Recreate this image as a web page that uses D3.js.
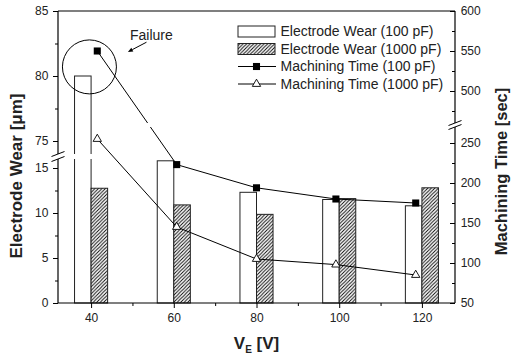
<!DOCTYPE html>
<html>
<head>
<meta charset="utf-8">
<script src="https://cdn.jsdelivr.net/npm/d3@7"></script>
<style>
  html, body { margin: 0; padding: 0; background: #fff; }
  svg { display: block; font-family: Arial, "Liberation Sans", Helvetica, sans-serif; }
</style>
</head>
<body>
<svg id="chart" width="511" height="358"></svg>
<script>
// Discharge voltage V_E [V]
const voltages = [40, 60, 80, 100, 120];
// Electrode wear [µm] per capacitance
const wear100 = [80, 15.8, 12.3, 11.5, 10.8];
const wear1000 = [12.75, 10.9, 9.85, 11.6, 12.8];
// Machining time [sec] per capacitance (plotted at these voltages)
const timeVoltages = [41.5, 60.7, 80, 99.2, 118.5];
const time100 = [550, 223, 194, 180, 175];
const time1000 = [255, 145, 105, 98, 85];
// Tick values
const xTicks = [40, 60, 80, 100, 120];
const xMinorTicks = [50, 70, 90, 110];
const wearTicksLow = [0, 5, 10, 15];
const wearTicksHigh = [75, 80, 85];
const wearMinorLow = [2.5, 7.5, 12.5];
const wearMinorHigh = [77.5, 82.5];
const timeTicksLow = [50, 100, 150, 200, 250];
const timeTicksHigh = [500, 550, 600];
const timeMinorLow = [75, 125, 175, 225];
const timeMinorHigh = [475, 525, 575];
const legendLabels = ["Electrode Wear (100 pF)", "Electrode Wear (1000 pF)",
                      "Machining Time (100 pF)", "Machining Time (1000 pF)"];
// "Failure" annotation, in data units (V, wear)
const failureCircle = [39.6, 80.7];
const failureText = [49.4, 82.8];
const failureArrowFrom = [53.4, 82.6];
const failureArrowTo = [48.9, 81.85];

const svg = d3.select("#chart");
const L = 58, R = 455, T = 11, B = 303;

// Axis with a break: two linear pieces joined at a gap
function brokenScale(lowDomain, lowRange, highDomain, highRange) {
  const lo = d3.scaleLinear().domain(lowDomain).range(lowRange);
  const hi = d3.scaleLinear().domain(highDomain).range(highRange);
  const s = v => (v >= highDomain[0] ? hi(v) : lo(v));
  s.lo = lo; s.hi = hi;
  s.gap = [highRange[0], lowRange[1]];
  return s;
}

const x = d3.scaleLinear().domain([32, 128]).range([L, R]);
const yWear = brokenScale([0, 16], [B, 159], [74, 85], [154, T]);
const yTime = brokenScale([50, 270], [B, 127], [460, 600], [123, T]);

// Hatch pattern for the 1000 pF bars
const defs = svg.append("defs");
const hatch = defs.append("pattern").attr("id", "hatch")
  .attr("patternUnits", "userSpaceOnUse").attr("width", 3.5).attr("height", 3.5);
hatch.append("rect").attr("width", 3.5).attr("height", 3.5).attr("fill", "#fff");
hatch.append("path").attr("d", "M-1,1 L1,-1 M0,3.5 L3.5,0 M2.5,4.5 L4.5,2.5")
  .attr("stroke", "#000").attr("stroke-width", 0.9);

// Clip regions that cut the marks at each axis break
function gapClip(id, gap) {
  const cp = defs.append("clipPath").attr("id", id);
  cp.append("rect").attr("x", 0).attr("y", 0).attr("width", 511).attr("height", gap[0]);
  cp.append("rect").attr("x", 0).attr("y", gap[1]).attr("width", 511).attr("height", 358 - gap[1]);
}
gapClip("clipWear", yWear.gap);
gapClip("clipTime", yTime.gap);

// Bars
const barW = 4;
const bars = svg.append("g").attr("clip-path", "url(#clipWear)");
bars.selectAll("rect.w100").data(voltages).join("rect").attr("class", "w100")
  .attr("x", (d) => x(d - barW)).attr("width", x(barW) - x(0))
  .attr("y", (d, i) => yWear(wear100[i])).attr("height", (d, i) => yWear(0) - yWear(wear100[i]))
  .attr("fill", "#fff").attr("stroke", "#222").attr("stroke-width", 1);
bars.selectAll("rect.w1000").data(voltages).join("rect").attr("class", "w1000")
  .attr("x", (d) => x(d)).attr("width", x(barW) - x(0))
  .attr("y", (d, i) => yWear(wear1000[i])).attr("height", (d, i) => yWear(0) - yWear(wear1000[i]))
  .attr("fill", "url(#hatch)").attr("stroke", "#222").attr("stroke-width", 1);

// Machining time lines
const line = d3.line().x(d => x(d[0])).y(d => yTime(d[1]));
const lines = svg.append("g").attr("clip-path", "url(#clipTime)");
lines.append("path").datum(timeVoltages.map((v, i) => [v, time100[i]]))
  .attr("d", line).attr("fill", "none").attr("stroke", "#000").attr("stroke-width", 1);
lines.append("path").datum(timeVoltages.map((v, i) => [v, time1000[i]]))
  .attr("d", line).attr("fill", "none").attr("stroke", "#000").attr("stroke-width", 1);

const sq = d3.symbol().type(d3.symbolSquare).size(50);
const tri = d3.symbol().type(d3.symbolTriangle).size(30);
svg.append("g").selectAll("path").data(timeVoltages).join("path")
  .attr("transform", (d, i) => `translate(${x(d)},${yTime(time100[i])})`)
  .attr("d", sq).attr("fill", "#000");
svg.append("g").selectAll("path").data(timeVoltages).join("path")
  .attr("transform", (d, i) => `translate(${x(d)},${yTime(time1000[i])})`)
  .attr("d", tri).attr("fill", "#fff").attr("stroke", "#000").attr("stroke-width", 0.9);

// Axes
function styleAxis(g, size) {
  g.select(".domain").remove();
  g.selectAll("line").attr("stroke", "#000").attr("stroke-width", 1);
  g.selectAll("text").attr("fill", "#222").style("font-size", size + "px");
}
const fmt = d3.format("d");

// bottom
const gx = svg.append("g").attr("transform", `translate(0,${B})`)
  .call(d3.axisBottom(x).tickValues(xTicks).tickFormat(fmt).tickSize(5).tickPadding(5.5));
styleAxis(gx, 12);
svg.append("g").attr("transform", `translate(0,${B})`)
  .call(d3.axisBottom(x).tickValues(xMinorTicks).tickFormat("").tickSize(3))
  .call(g => styleAxis(g, 12));

// left
[[yWear.lo, wearTicksLow, wearMinorLow], [yWear.hi, wearTicksHigh, wearMinorHigh]].forEach(([sc, maj, mnr]) => {
  svg.append("g").attr("transform", `translate(${L},0)`)
    .call(d3.axisLeft(sc).tickValues(maj).tickFormat(fmt).tickSize(5).tickPadding(4.7))
    .call(g => styleAxis(g, 12));
  svg.append("g").attr("transform", `translate(${L},0)`)
    .call(d3.axisLeft(sc).tickValues(mnr).tickFormat("").tickSize(3))
    .call(g => styleAxis(g, 12));
});

// right (ticks point inward)
[[yTime.lo, timeTicksLow, timeMinorLow], [yTime.hi, timeTicksHigh, timeMinorHigh]].forEach(([sc, maj, mnr]) => {
  svg.append("g").attr("transform", `translate(${R},0)`)
    .call(d3.axisRight(sc).tickValues(maj).tickFormat(fmt).tickSizeInner(-5).tickSizeOuter(0).tickPadding(5.7))
    .call(g => styleAxis(g, 12));
  svg.append("g").attr("transform", `translate(${R},0)`)
    .call(d3.axisRight(sc).tickValues(mnr).tickFormat("").tickSizeInner(-3).tickSizeOuter(0))
    .call(g => styleAxis(g, 12));
});

// frame lines
const frame = svg.append("g").attr("stroke", "#000").attr("stroke-width", 1.2).attr("fill", "none");
frame.append("line").attr("x1", L).attr("x2", R).attr("y1", B).attr("y2", B);
frame.append("line").attr("x1", L).attr("x2", R).attr("y1", T).attr("y2", T);
frame.append("line").attr("x1", L).attr("x2", L).attr("y1", T).attr("y2", yWear.gap[0]);
frame.append("line").attr("x1", L).attr("x2", L).attr("y1", yWear.gap[1]).attr("y2", B);
frame.append("line").attr("x1", R).attr("x2", R).attr("y1", T).attr("y2", yTime.gap[0]);
frame.append("line").attr("x1", R).attr("x2", R).attr("y1", yTime.gap[1]).attr("y2", B);

// break marks
function breakMarks(cx, gap) {
  gap.forEach(yy => {
    svg.append("line").attr("x1", cx - 6.5).attr("y1", yy + 2.5).attr("x2", cx + 6.5).attr("y2", yy - 2.5)
      .attr("stroke", "#000").attr("stroke-width", 1);
  });
}
breakMarks(L, yWear.gap);
breakMarks(R, yTime.gap);

// Failure annotation
svg.append("circle").attr("cx", x(failureCircle[0])).attr("cy", yWear(failureCircle[1])).attr("r", 27)
  .attr("fill", "none").attr("stroke", "#000").attr("stroke-width", 1);
svg.append("text").attr("x", x(failureText[0])).attr("y", yWear(failureText[1]))
  .style("font-size", "14px").attr("fill", "#222").text("Failure");
{
  const x1 = x(failureArrowFrom[0]), y1 = yWear(failureArrowFrom[1]);
  const x2 = x(failureArrowTo[0]), y2 = yWear(failureArrowTo[1]);
  const ang = Math.atan2(y2 - y1, x2 - x1);
  const hl = 5, hw = 2.2;
  const bx = x2 - hl * Math.cos(ang), by = y2 - hl * Math.sin(ang);
  svg.append("line").attr("x1", x1).attr("y1", y1).attr("x2", bx).attr("y2", by)
    .attr("stroke", "#000").attr("stroke-width", 1);
  svg.append("path").attr("d", `M${x2},${y2} L${bx - hw * Math.sin(ang)},${by + hw * Math.cos(ang)} L${bx + hw * Math.sin(ang)},${by - hw * Math.cos(ang)} Z`)
    .attr("fill", "#000");
}

// Legend
const lg = svg.append("g");
const rowY = [31.5, 49, 66.5, 84];
const symL = 238, symR = 275;
lg.append("rect").attr("x", symL).attr("y", rowY[0] - 5.5).attr("width", symR - symL).attr("height", 11)
  .attr("fill", "#fff").attr("stroke", "#222");
lg.append("rect").attr("x", symL).attr("y", rowY[1] - 5.5).attr("width", symR - symL).attr("height", 11)
  .attr("fill", "url(#hatch)").attr("stroke", "#222");
[2, 3].forEach(i => {
  lg.append("line").attr("x1", symL).attr("x2", symR + 1).attr("y1", rowY[i]).attr("y2", rowY[i])
    .attr("stroke", "#000");
});
lg.append("path").attr("transform", `translate(${(symL + symR) / 2},${rowY[2]})`).attr("d", sq).attr("fill", "#000");
lg.append("path").attr("transform", `translate(${(symL + symR) / 2},${rowY[3]})`).attr("d", tri)
  .attr("fill", "#fff").attr("stroke", "#000").attr("stroke-width", 0.9);
lg.selectAll("text").data(legendLabels).join("text")
  .attr("x", 280.5).attr("y", (d, i) => rowY[i]).attr("dy", "0.35em")
  .style("font-size", "14px").attr("fill", "#222").text(d => d);

// Axis titles
svg.append("text").attr("transform", `translate(22,176) rotate(-90)`).attr("text-anchor", "middle")
  .style("font-size", "17px").style("font-weight", "bold").attr("fill", "#222")
  .text("Electrode Wear [μm]");
svg.append("text").attr("transform", `translate(506.5,171.5) rotate(-90)`).attr("text-anchor", "middle")
  .style("font-size", "16.5px").style("font-weight", "bold").attr("fill", "#222")
  .text("Machining Time [sec]");
const xt = svg.append("text").attr("x", (L + R) / 2).attr("y", 348.5).attr("text-anchor", "middle")
  .style("font-size", "17px").style("font-weight", "bold").attr("fill", "#222");
xt.append("tspan").text("V");
xt.append("tspan").attr("dy", 4).style("font-size", "10px").text("E");
xt.append("tspan").attr("dy", -4).text(" [V]");
</script>
</body>
</html>
